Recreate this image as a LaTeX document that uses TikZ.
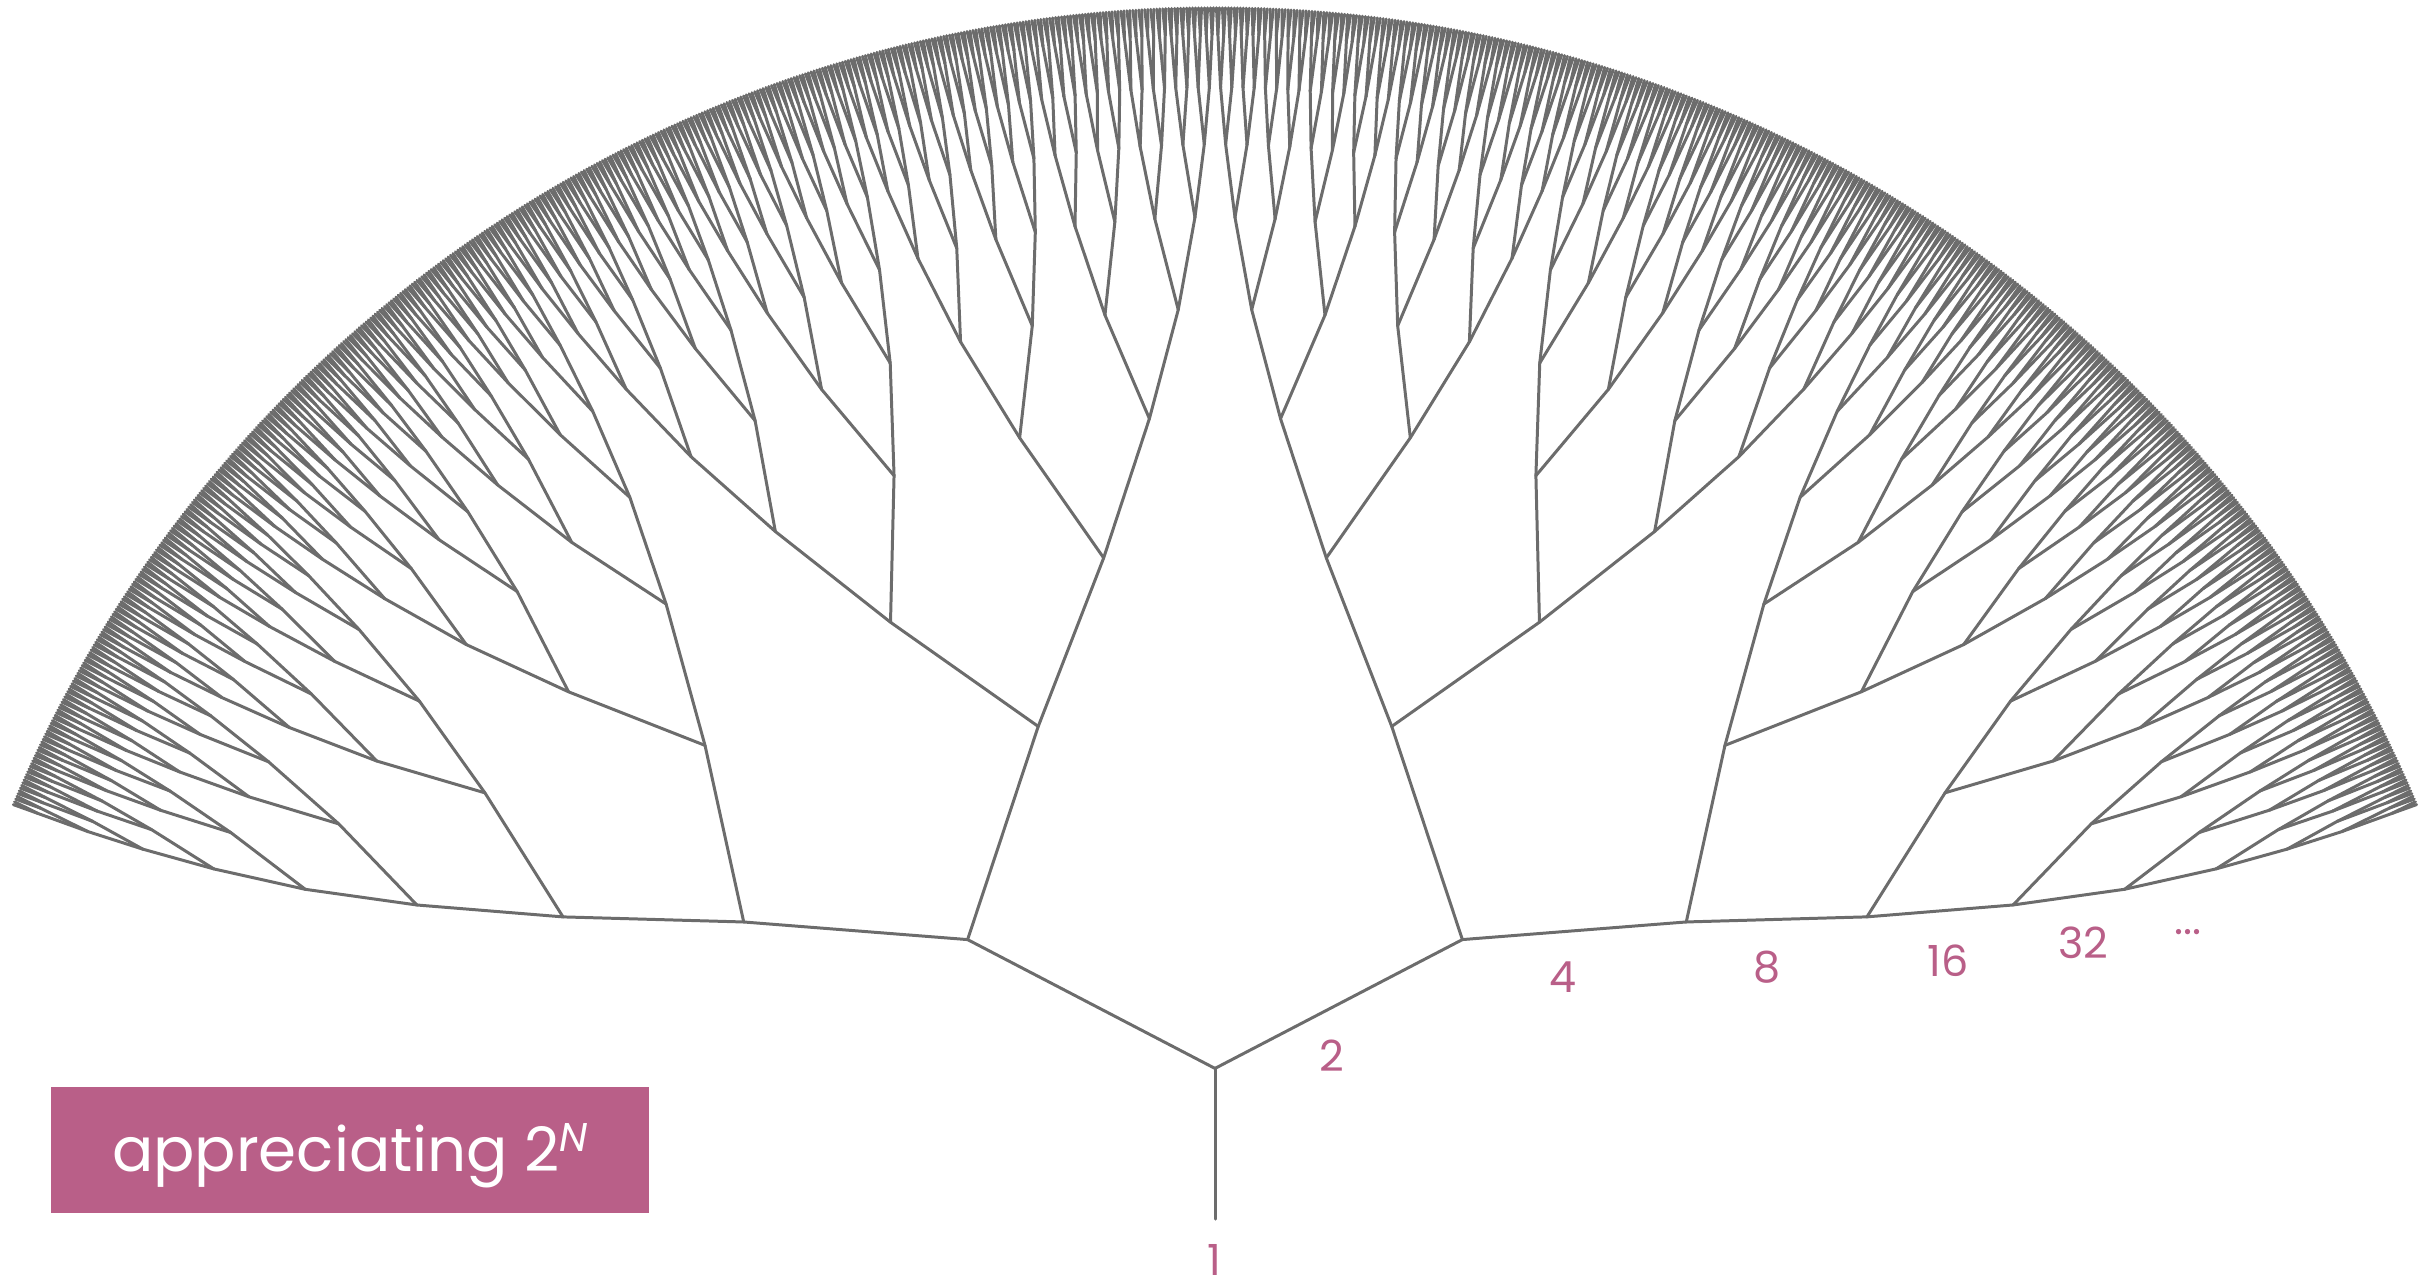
\documentclass[tikz,border=0pt]{standalone}
\usepackage{fontspec}
\setmainfont{Poppins}
\definecolor{branchgray}{RGB}{108,108,108}
\definecolor{rose}{RGB}{185,95,136}
\begin{document}
\begin{tikzpicture}[x=0.01cm,y=-0.01cm,
  branch/.style={draw=branchgray,line width=0.85pt,line cap=round,line join=round},
  numlabel/.style={text=rose,font=\fontsize{12.2}{14}\selectfont,inner sep=0pt},
  titlebox/.style={fill=rose,text=white,inner sep=0pt,minimum width=5.97cm,minimum height=1.26cm,
    text height=0.43cm,text depth=0pt,font=\fontsize{17.4}{20}\selectfont}]
\useasboundingbox (0,0) rectangle (2435,1287);
\def\cx{1215}\def\cy{1312.2}\def\H{67.1}
% tree nodes (radial layout, 1024 leaves)
\coordinate (n-0-0) at (\cx,{\cy-243.8});
\foreach \d in {1,...,10}{
  \pgfmathtruncatemacro\n{2^\d-1}
  \pgfmathtruncatemacro\w{2^(10-\d)}
  \pgfmathsetmacro\r{{243.8,447.3,611.9,762.5,896,1003.2,1094.9,1167.9,1225,1278,1304.5}[\d]}
  \foreach \i in {0,...,\n}{
    \pgfmathsetmacro\a{-\H+2*\H/1023*(\i*\w+(\w-1)/2)}
    \coordinate (n-\d-\i) at ({\cx+\r*sin(\a)},{\cy-\r*cos(\a)});
  }
}
% branches
\foreach \d in {1,...,10}{
  \pgfmathtruncatemacro\n{2^\d-1}
  \pgfmathtruncatemacro\pd{\d-1}
  \foreach \i in {0,...,\n}{
    \pgfmathtruncatemacro\p{floor(\i/2)}
    \draw[branch] (n-\pd-\p) -- (n-\d-\i);
  }
}
\coordinate (stemend) at (\cx,1219);
\draw[branch] (n-0-0) -- (stemend);
% labels
\node[numlabel] (l1) at (1214.6,1260) {1};
\node[numlabel] (l2) at (1332,1056) {2};
\node[numlabel] (l4) at (1563,977) {4};
\node[numlabel] (l8) at (1767,967) {8};
\node[numlabel] (l16) at (1948,960.5) {16};
\node[numlabel] (l32) at (2083,943) {32};
\node[numlabel] (ldots) at (2188,932) {...};
% title box
\node[titlebox] (title) at (350,1150) {appreciating 2\raisebox{5.7pt}{\fontsize{11.4}{12}\selectfont\itshape N}};
\end{tikzpicture}
\end{document}
